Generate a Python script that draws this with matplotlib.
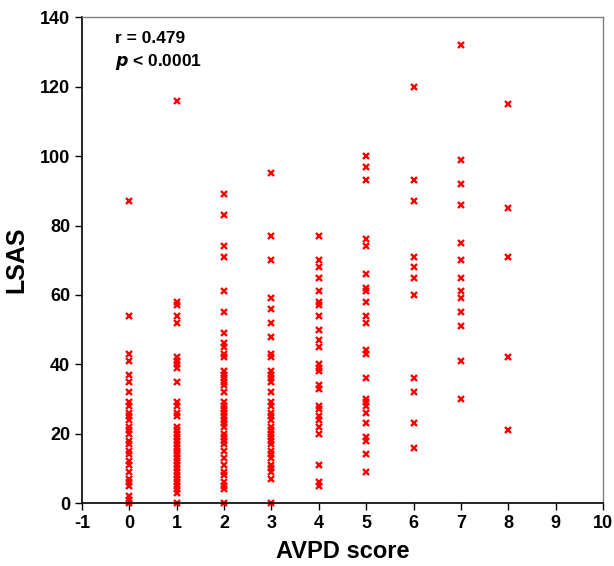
# coding:utf-8
from matplotlib import pyplot as plt
import matplotlib

# 字体设置
font = {'family': ['Liberation Sans', 'DejaVu Sans'],
        'weight': 'bold',
        'size': 12}
matplotlib.rc("font", **font)
matplotlib.rcParams['axes.unicode_minus'] = False

# LSAS 分数，按 AVPD score 分组
lsas_0 = [87, 54, 43, 41, 37, 35, 32, 29, 28, 26, 25, 24, 22, 21, 20, 18, 17,
          15, 14, 12, 11, 9, 7, 6, 5, 2, 1, 0]
lsas_1 = [116, 58, 57, 54, 52, 42, 41, 40, 39, 35, 29, 28, 26, 25, 22, 21, 20,
          19, 18, 17, 16, 15, 14, 13, 12, 11, 10, 9, 8, 7, 6, 5, 4, 3, 0]
lsas_2 = [89, 83, 74, 71, 61, 55, 49, 46, 45, 43, 42, 38, 37, 36, 35, 34, 32,
          29, 28, 27, 26, 25, 24, 23, 22, 20, 19, 18, 17, 15, 13, 11, 9, 8, 6,
          5, 4, 0]
lsas_3 = [95, 77, 70, 59, 56, 52, 48, 43, 42, 38, 37, 36, 35, 32, 29, 28, 26,
          25, 24, 22, 21, 20, 19, 18, 17, 15, 14, 13, 11, 10, 9, 7, 0]
lsas_4 = [77, 70, 68, 65, 61, 58, 57, 54, 50, 47, 45, 40, 39, 38, 34, 33, 28,
          27, 25, 24, 22, 20, 11, 6, 5]
lsas_5 = [100, 97, 93, 76, 74, 66, 62, 61, 58, 54, 52, 44, 43, 36, 30, 29, 28,
          26, 23, 19, 18, 14, 9]
lsas_6 = [120, 93, 87, 71, 68, 65, 60, 36, 32, 23, 16]
lsas_7 = [132, 99, 92, 86, 75, 70, 65, 61, 59, 55, 51, 41, 30]
lsas_8 = [115, 85, 71, 42, 21]
groups = [lsas_0, lsas_1, lsas_2, lsas_3, lsas_4, lsas_5, lsas_6, lsas_7, lsas_8]

# 画布
fig = plt.figure(figsize=(6.14, 5.66), dpi=100)
ax = fig.add_axes([0.1336, 0.1113, 0.8484, 0.858])

# 描点
for score, vals in enumerate(groups):
    ax.plot([score] * len(vals), vals, linestyle="none", marker="x",
            markersize=4, markeredgewidth=1.7, color="#FF0000", clip_on=False)

# 坐标轴
ax.set_xlim(-1, 10)
ax.set_ylim(0, 140)
ax.set_xticks(range(-1, 11))
ax.set_yticks(range(0, 141, 20))
ax.tick_params(direction="out", length=5, width=1, labelsize=13)
for s in ["top", "right"]:
    ax.spines[s].set_color("#808080")
    ax.spines[s].set_linewidth(1)
for s in ["left", "bottom"]:
    ax.spines[s].set_linewidth(1.2)

ax.set_xlabel("AVPD score", fontsize=17, fontweight="bold", labelpad=6)
ax.set_ylabel("LSAS", fontsize=18, fontweight="bold", labelpad=8)

# 相关系数
ax.text(-0.3, 136, "r = 0.479", fontsize=12.5, fontweight="bold", va="top")
ax.text(-0.3, 130, "$\\boldsymbol{p}$ < 0.0001", fontsize=12.5,
        fontweight="bold", va="top")

fig.savefig("out.png", dpi=100)
